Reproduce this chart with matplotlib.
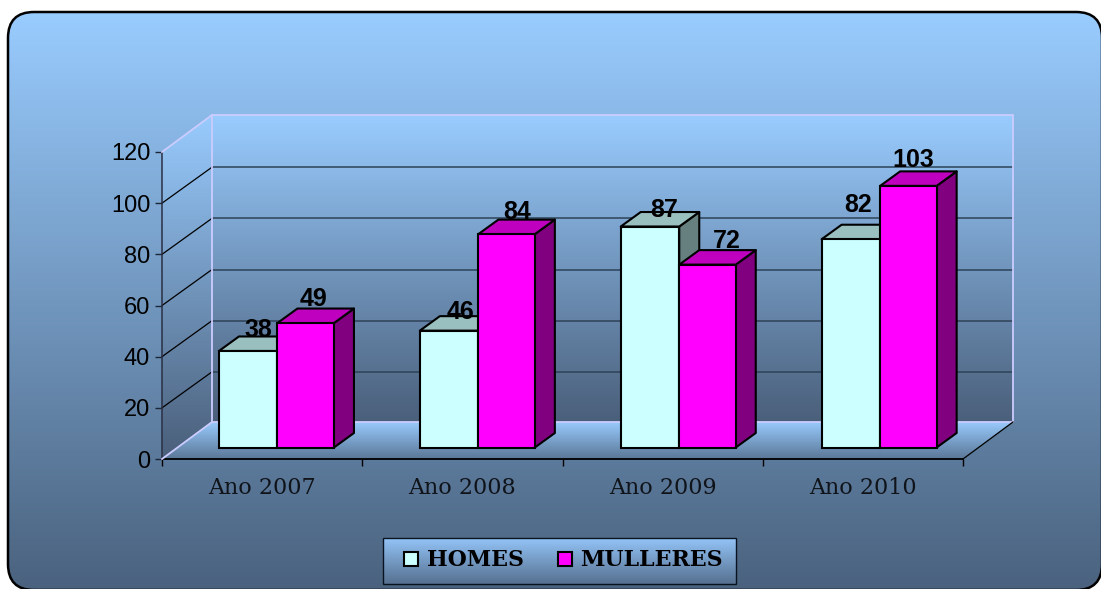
import numpy as np
import matplotlib
matplotlib.use('Agg')
import matplotlib.pyplot as plt
from matplotlib.colors import LinearSegmentedColormap
from matplotlib.patches import FancyBboxPatch, Polygon, Rectangle

# data
years = ['Ano 2007', 'Ano 2008', 'Ano 2009', 'Ano 2010']
homes = [38, 46, 87, 82]
mulleres = [49, 84, 72, 103]
yticks = [0, 20, 40, 60, 80, 100, 120]

W, H = 1101, 589
LILAC = '#CCCCFF'
SKY = '#99CCFF'


def frac(left, top, right, bottom):
    return [left / W, 1 - bottom / H, (right - left) / W, (bottom - top) / H]


def grad(axis, extent, clip, top, bottom, z=1):
    cmap = LinearSegmentedColormap.from_list('g', [top, bottom])
    im = axis.imshow(np.linspace(0, 1, 256).reshape(-1, 1), cmap=cmap, extent=extent,
                     aspect='auto', origin='upper', zorder=z)
    clip.set_transform(axis.transData)
    im.set_clip_path(clip)
    # the walls stick out of the axes box, so only the patch may clip them
    im.set_clip_box(fig.bbox)
    return im


fig = plt.figure(figsize=(W / 100, H / 100), dpi=100, facecolor='white')

# background, in pixels
bg = fig.add_axes([0, 0, 1, 1])
bg.axis('off')
r = 26
clip = FancyBboxPatch((8 + r, 12 + r), 1094 - 2 * r, 578 - 2 * r,
                      boxstyle='round,pad=%d,rounding_size=%d' % (r, r))
grad(bg, (8, 1102, 590, 12), clip, SKY, '#4A627E')
bg.add_patch(FancyBboxPatch((8 + r, 12 + r), 1094 - 2 * r, 578 - 2 * r,
                            boxstyle='round,pad=%d,rounding_size=%d' % (r, r),
                            fc='none', ec='black', lw=1.8, zorder=3))

# legend
leg = Rectangle((383, 538), 353, 46)
grad(bg, (383, 736, 584, 538), leg, '#93C4F8', '#56708F', z=2)
bg.add_patch(Rectangle((383, 538), 353, 46, fc='none', ec='#0A1420', lw=1, zorder=3))
bg.add_patch(Rectangle((404, 552), 14, 14, fc='#CCFFFF', ec='black', lw=1.5, zorder=3))
bg.add_patch(Rectangle((558, 552), 14, 14, fc='#FF00FF', ec='black', lw=1.5, zorder=3))
bg.text(427, 560, 'HOMES', family='DejaVu Serif', weight='bold', fontsize=15.8,
        va='center', ha='left', color='black', zorder=4)
bg.text(580, 560, 'MULLERES', family='DejaVu Serif', weight='bold', fontsize=15.9,
        va='center', ha='left', color='black', zorder=4)
bg.set_xlim(0, W)
bg.set_ylim(H, 0)

# front plane of the 3d box
ax = fig.add_axes(frac(162, 152, 963, 459))
ax.patch.set_visible(False)
dx, dy = 50 / 200.25, 37 / 2.558
n = len(years)
ymax = yticks[-1]

back = Polygon([(dx, dy), (n + dx, dy), (n + dx, ymax + dy), (dx, ymax + dy)])
grad(ax, (dx, n + dx, dy, ymax + dy), back, SKY, '#4A5F7A')
side = Polygon([(0, 0), (dx, dy), (dx, ymax + dy), (0, ymax)])
grad(ax, (0, dx, 0, ymax + dy), side, SKY, '#4A5F7A')
floor = Polygon([(0, 0), (n, 0), (n + dx, dy), (dx, dy)])
grad(ax, (0, n + dx, 0, dy), floor, SKY, '#5B7797')

# gridlines sit about a pixel lower on the wall than the tick spacing gives
grid_dy = dy - 0.4
for t in yticks[1:-1]:
    ax.plot([dx, n + dx], [t + grid_dy, t + grid_dy], color='#2E4358', lw=1.1, clip_on=False, zorder=2)
    ax.plot([0, dx], [t, t + grid_dy], color='black', lw=0.9, clip_on=False, zorder=2)
ax.plot([dx, n + dx, n + dx], [ymax + dy, ymax + dy, dy], color=LILAC, lw=1.3, clip_on=False, zorder=3)
ax.plot([dx, dx], [dy, ymax + dy], color=LILAC, lw=1.3, clip_on=False, zorder=3)
ax.plot([0, dx, n + dx], [0, dy, dy], color=LILAC, lw=1.3, clip_on=False, zorder=3)
ax.plot([0, dx], [ymax, ymax + dy], color=LILAC, lw=1.3, clip_on=False, zorder=3)
ax.plot([n, n + dx], [0, dy], color='black', lw=0.9, clip_on=False, zorder=3)

ax.set_xlim(0, n)
ax.set_ylim(0, ymax)
ax.set_yticks(yticks)
ax.set_yticklabels([str(t) for t in yticks], family='Liberation Sans', fontsize=17, color='black')
ax.set_xticks(np.arange(n) + 0.5)
ax.set_xticklabels(years, family='DejaVu Serif', fontsize=16, color='#10141A')
ax.set_xticks(np.arange(n + 1), minor=True)
ax.tick_params(axis='x', which='major', length=0, pad=13)
ax.tick_params(axis='x', which='minor', length=5, width=1, color='black')
ax.tick_params(axis='y', length=5, width=1, color='#1C2636', pad=3.5)
for s in ['top', 'right']:
    ax.spines[s].set_visible(False)
ax.spines['left'].set_color('#2A3045')
ax.spines['left'].set_linewidth(1.1)
ax.spines['bottom'].set_color('black')
ax.spines['bottom'].set_linewidth(1.3)

# bars sit on their own plane, a bit deeper than the front of the box
bx = fig.add_axes(frac(176, 447.5 - 2.54 * ymax, 979.6, 447.5))
bx.axis('off')
bx.set_xlim(0, n)
bx.set_ylim(0, ymax)
bw_h = 58.5 / 200.9
bw_m = 56.5 / 200.9
ddx, ddy = 20 / 200.9, 14.5 / 2.54


def bar3d(x0, bw, v, front, topc, sidec, z):
    x1 = x0 + bw
    bx.add_patch(Polygon([(x1, 0), (x1 + ddx, ddy), (x1 + ddx, v + ddy), (x1, v)],
                         fc=sidec, ec='black', lw=1.5, clip_on=False, zorder=z, joinstyle='round'))
    bx.add_patch(Polygon([(x0, v), (x1, v), (x1 + ddx, v + ddy), (x0 + ddx, v + ddy)],
                         fc=topc, ec='black', lw=1.5, clip_on=False, zorder=z, joinstyle='round'))
    bx.bar(x0, v, bw, align='edge', color=front, edgecolor='black', lw=1.5, clip_on=False, zorder=z)


# homes starts where it did before, mulleres follows on from it
for i in range(n):
    x_h = i + 0.5 - 57.5 / 200.9
    bar3d(x_h, bw_h, homes[i], '#CCFFFF', '#99BFBF', '#668080', 3)
    bar3d(x_h + bw_h, bw_m, mulleres[i], '#FF00FF', '#BF00BF', '#800080', 4)

# value labels, nudged by hand off the front top corner of each bar (pixels)
nudge_h = [(10, 21), (11, 19), (14, 17), (7, 34)]
nudge_m = [(8, 24), (11, 22), (19, 24), (5, 26)]
for i in range(n):
    x_h = i + 0.5 - 57.5 / 200.9
    for v, xc, (ox, oy) in [(homes[i], x_h + bw_h / 2, nudge_h[i]),
                            (mulleres[i], x_h + bw_h + bw_m / 2, nudge_m[i])]:
        bx.annotate(str(v), (xc, v), xytext=(ox * 0.72, oy * 0.72), textcoords='offset points',
                    ha='center', va='center', family='Liberation Sans', weight='bold',
                    fontsize=18, color='black', zorder=6, annotation_clip=False)

fig.savefig('out.png', dpi=100, facecolor='white')
